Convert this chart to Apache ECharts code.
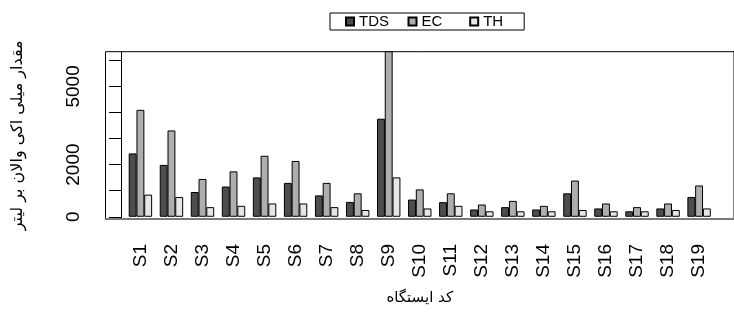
<!DOCTYPE html>
<html>
<head>
    <meta charset="utf-8">
    <script type="text/javascript" src="https://cdn.jsdelivr.net/npm/echarts@6/dist/echarts.min.js"></script>
</head>
<body style="margin:0;background:#fff">
    <div id="main" style="width: 734px;height:316px;"></div>
    <script type="text/javascript">
    // station codes and values (milli-equivalent per litre)
    let stations = ['S1','S2','S3','S4','S5','S6','S7','S8','S9','S10','S11','S12','S13','S14','S15','S16','S17','S18','S19']
    let tds = [2430, 1990, 950, 1160, 1510, 1300, 820, 570, 3760, 660, 560, 280, 370, 280, 900, 320, 210, 320, 760]
    let ec  = [4100, 3310, 1450, 1740, 2340, 2140, 1300, 900, 6500, 1050, 900, 470, 610, 420, 1390, 510, 370, 510, 1200]
    let th  = [850, 760, 370, 420, 510, 510, 370, 260, 1510, 320, 420, 210, 210, 210, 260, 210, 210, 260, 320]
    let yTicks = [0, 1000, 2000, 3000, 4000, 5000, 6000]
    let yLabels = [0, 2000, 5000]

    // barplot(beside=TRUE) layout: bar width 1, space 1 between groups
    let groupX = i => 2.5 + 4 * i
    let centers = stations.map((s, i) => groupX(i))

    // R legend uses equal columns, pad the short names with spaces
    let legendPad = { TDS: '   ', EC: '     ', TH: '' }

    function barSeries(name, values, shift, color) {
        return {
            name: name,
            type: 'bar',
            barWidth: 7.9,
            barGap: '-100%',
            itemStyle: { color: color, borderColor: '#000', borderWidth: 1 },
            data: values.map((v, i) => [groupX(i) + shift, v])
        }
    }

    var myChart = echarts.init(document.getElementById('main'))
    let option = {
        animation: false,
        backgroundColor: '#fff',
        textStyle: { fontFamily: 'Liberation Sans, Arial, sans-serif' },
        grid: {
            left: 105.5, right: -8.6, top: 51.7, bottom: 97,
            show: true, borderColor: '#000', borderWidth: 1
        },
        legend: {
            left: 330, top: 13,
            padding: [1, 21, 1, 15],
            borderColor: '#000', borderWidth: 1,
            itemWidth: 8, itemHeight: 8, itemGap: 6,
            icon: 'rect',
            formatter: name => name + legendPad[name],
            textStyle: { fontSize: 15, color: '#000', padding: [2, 0, 0, 0] },
            data: ['TDS', 'EC', 'TH']
        },
        xAxis: {
            type: 'value',
            min: -2, max: 79,
            name: 'کد ایستگاه',
            nameLocation: 'middle',
            nameGap: 72,
            nameTextStyle: { fontFamily: 'DejaVu Sans', fontSize: 15, color: '#000' },
            axisLine: { onZero: false, lineStyle: { color: '#7a7a7a', width: 2 } },
            axisTick: { show: false },
            splitLine: { show: false },
            axisLabel: {
                customValues: centers,
                rotate: 90,
                margin: 25,
                fontSize: 19,
                color: '#000',
                formatter: v => stations[Math.round((v - 2.5) / 4)]
            }
        },
        yAxis: {
            type: 'value',
            min: -85, max: 6330,
            name: 'مقدار میلی اکی والان بر لیتر',
            nameLocation: 'middle',
            nameGap: 80,
            nameTextStyle: { fontFamily: 'DejaVu Sans', fontSize: 16, color: '#000' },
            axisLine: { show: true, lineStyle: { color: '#000', width: 1 } },
            axisTick: { show: true, customValues: yTicks, length: 12, lineStyle: { color: '#000' } },
            splitLine: { show: false },
            axisLabel: {
                customValues: yLabels,
                rotate: 90,
                margin: 22,
                fontSize: 19,
                color: '#000',
                formatter: v => String(v)
            }
        },
        series: [
            barSeries('TDS', tds, -1, '#4d4d4d'),
            barSeries('EC', ec, 0, '#aeaeae'),
            barSeries('TH', th, 1, '#e6e6e6')
        ]
    }
    myChart.setOption(option)
    </script>
</body>
</html>
